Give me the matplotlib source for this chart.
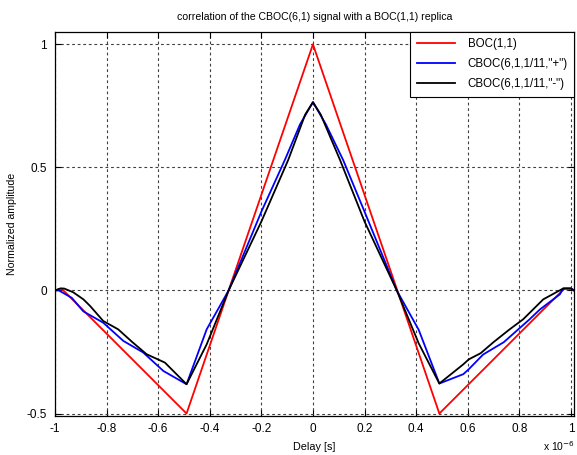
import matplotlib
matplotlib.use("Agg")
import matplotlib.pyplot as plt

# delays in units of 1e-6 s
delay_boc = [-1.0, -0.975, -0.49, -0.327, 0.0, 0.327, 0.49, 0.975, 1.0, 1.012]
boc = [0.0, 0.008, -0.5, 0.0, 1.0, 0.0, -0.5, 0.008, 0.008, 0.0]

delay_plus = [-1.0, -0.985, -0.935, -0.89, -0.813, -0.735, -0.658, -0.58,
              -0.49, -0.412, -0.327, -0.2, -0.109, -0.05, 0.0,
              0.05, 0.117, 0.2, 0.325, 0.41, 0.49, 0.583, 0.604, 0.66,
              0.74, 0.84, 0.88, 0.957, 0.97, 1.0, 1.012]
cboc_plus = [0.0, 0.0, -0.03, -0.085, -0.131, -0.205, -0.252, -0.327,
             -0.381, -0.158, 0.0, 0.32, 0.53, 0.675, 0.765,
             0.675, 0.53, 0.32, 0.0, -0.16, -0.378, -0.34, -0.32, -0.26,
             -0.21, -0.117, -0.077, -0.016, 0.008, 0.008, 0.0]

delay_minus = [-1.0, -0.98, -0.965, -0.93, -0.89, -0.864, -0.813, -0.755,
               -0.70, -0.645, -0.574, -0.49, -0.412, -0.327, -0.2, -0.096,
               -0.03, 0.0, 0.03, 0.105, 0.2, 0.325, 0.41, 0.49, 0.583,
               0.604, 0.65, 0.70, 0.76, 0.815, 0.893, 0.97, 1.0, 1.012]
cboc_minus = [0.0, 0.008, 0.008, -0.007, -0.036, -0.063, -0.124, -0.158,
              -0.21, -0.259, -0.293, -0.381, -0.219, 0.0, 0.28, 0.53,
              0.715, 0.765, 0.715, 0.53, 0.28, 0.0, -0.215, -0.378, -0.30,
              -0.28, -0.255, -0.21, -0.16, -0.117, -0.036, 0.008, 0.008, 0.0]

plt.rcParams['font.family'] = ['Liberation Sans', 'DejaVu Sans']
plt.rcParams['axes.unicode_minus'] = False

fig = plt.figure(figsize=(5.77, 4.55), dpi=100)
ax = fig.add_axes([55 / 577, 39 / 455, 519 / 577, 384 / 455])

ax.plot(delay_boc, boc, color='#ff0000', lw=1.3, label='BOC(1,1)')
ax.plot(delay_plus, cboc_plus, color='#0000ff', lw=1.3,
        label='CBOC(6,1,1/11,"+")')
ax.plot(delay_minus, cboc_minus, color='black', lw=1.3,
        label='CBOC(6,1,1/11,"-")')

ax.set_xlim(-1.0, 1.012)
ax.set_ylim(-0.51, 1.05)
ax.set_xticks([-1, -0.8, -0.6, -0.4, -0.2, 0, 0.2, 0.4, 0.6, 0.8, 1])
ax.set_xticklabels(['-1', '-0.8', '-0.6', '-0.4', '-0.2', '0', '0.2', '0.4',
                    '0.6', '0.8', '1'])
ax.set_yticks([-0.5, 0, 0.5, 1])
ax.set_yticklabels(['-0.5', '0', '0.5', '1'])
ax.tick_params(direction='in', top=True, right=True, labelsize=8.5,
               length=4, width=0.8)
ax.tick_params(axis='x', pad=5)
ax.tick_params(axis='y', pad=6)
ax.grid(True, color='#404040', linestyle=(0, (2.5, 2.5)), lw=0.8)
for spine in ax.spines.values():
    spine.set_linewidth(0.9)

ax.set_title('correlation of the CBOC(6,1) signal with a BOC(1,1) replica',
             fontsize=7.6, pad=9)
ax.set_xlabel('Delay [s]', fontsize=7.8, labelpad=5)
ax.set_ylabel('Normalized amplitude', fontsize=7.6, labelpad=7)
fig.text(543 / 577, 4 / 455, 'x 10$^{-6}$', fontsize=7.5)

leg = ax.legend(loc='upper right', fontsize=8.3, fancybox=False,
                framealpha=1, edgecolor='black', borderaxespad=0,
                handlelength=3.3, borderpad=0.55, labelspacing=0.7,
                handletextpad=1.1)
leg.get_frame().set_linewidth(0.8)

fig.savefig('out.png', dpi=100)
